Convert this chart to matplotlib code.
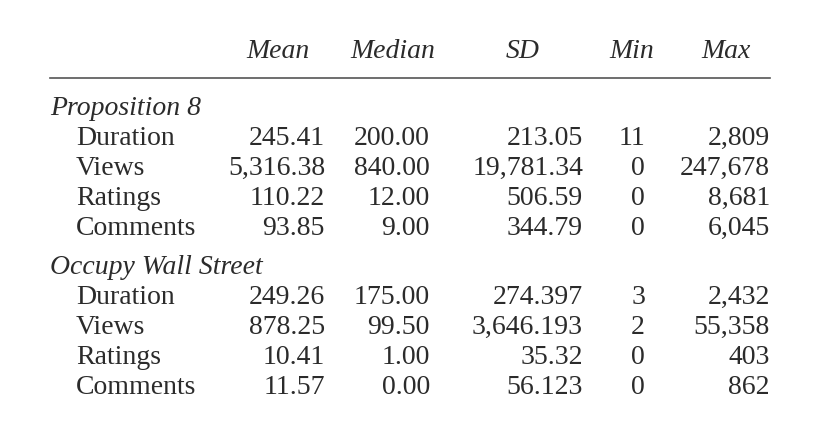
import matplotlib
matplotlib.use("Agg")
import matplotlib.pyplot as plt

# table contents
headers = ["Mean", "Median", "SD", "Min", "Max"]
groups = ["Proposition 8", "Occupy Wall Street"]
rows = ["Duration", "Views", "Ratings", "Comments"]
prop8 = [
    ["245.41", "200.00", "213.05", "11", "2,809"],
    ["5,316.38", "840.00", "19,781.34", "0", "247,678"],
    ["110.22", "12.00", "506.59", "0", "8,681"],
    ["93.85", "9.00", "344.79", "0", "6,045"],
]
ows = [
    ["249.26", "175.00", "274.397", "3", "2,432"],
    ["878.25", "99.50", "3,646.193", "2", "55,358"],
    ["10.41", "1.00", "35.32", "0", "403"],
    ["11.57", "0.00", "56.123", "0", "862"],
]

W, H = 820, 436
fig = plt.figure(figsize=(W / 100, H / 100), dpi=100)
ax = fig.add_axes([0, 0, 1, 1])
ax.set_xlim(0, W)
ax.set_ylim(H, 0)
ax.axis("off")

col = "#2b2b2b"
fs = 20
font = "Liberation Serif"

header_x = [278, 393, 523, 632, 726]
value_x = [325, 430, 583, 645, 770]
value_ha = ["right", "right", "right", "right", "right"]

for h, x in zip(headers, header_x):
    ax.text(x, 52, h, ha="center", va="center", fontsize=fs, style="italic",
            family=font, color=col)
ax.plot([50, 770], [78, 78], color="#555555", lw=1.2)

starts = [108, 267]
for g, data, y0 in zip(groups, [prop8, ows], starts):
    ax.text(50, y0, g, ha="left", va="center", fontsize=fs, style="italic",
            family=font, color=col)
    for i, (r, vals) in enumerate(zip(rows, data)):
        y = y0 + 30 * (i + 1)
        ax.text(76, y, r, ha="left", va="center", fontsize=fs, family=font, color=col)
        for v, x, ha in zip(vals, value_x, value_ha):
            ax.text(x, y, v, ha=ha, va="center", fontsize=fs, family=font, color=col)

fig.savefig("out.png", dpi=100, facecolor="white")
